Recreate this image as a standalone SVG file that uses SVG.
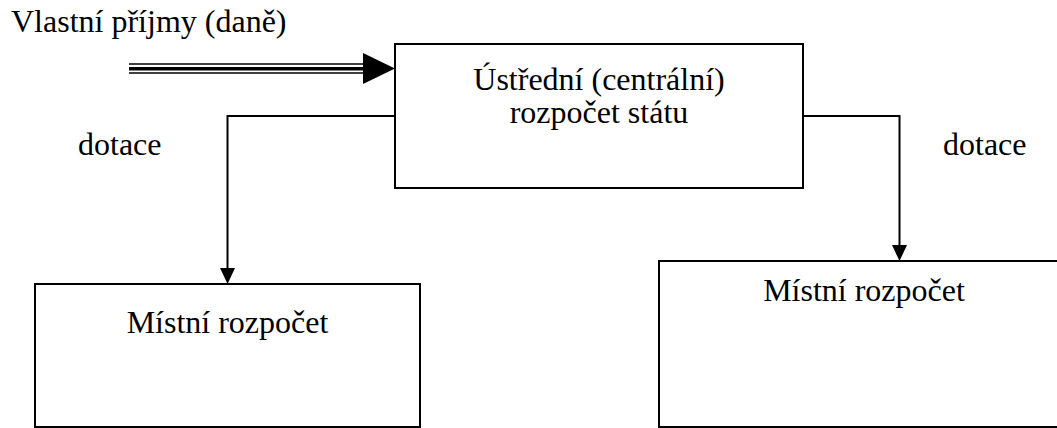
<svg xmlns="http://www.w3.org/2000/svg" width="1057" height="428" viewBox="0 0 1057 428">
<style>
.box{fill:#fff;stroke:#000;stroke-width:2}
.t{font-family:"Liberation Serif","Times New Roman",serif;font-size:32px;fill:#000}
.c{stroke:#000;stroke-width:2;fill:none}
</style>
<rect width="1057" height="428" fill="#fff"/>
<g id="central">
<rect class="box" x="395" y="44" width="408" height="144"/>
<text class="t" x="599" y="90" text-anchor="middle">Ústřední (centrální)</text>
<text class="t" x="599" y="123" text-anchor="middle">rozpočet státu</text>
</g>
<g id="local-left">
<rect class="box" x="35" y="284" width="385" height="143"/>
<text class="t" x="227.5" y="333" text-anchor="middle">Místní rozpočet</text>
</g>
<g id="local-right">
<rect class="box" x="659" y="261" width="420" height="166"/>
<text class="t" x="864" y="301" text-anchor="middle">Místní rozpočet</text>
</g>
<g id="labels">
<text class="t" x="11" y="32">Vlastní příjmy (daně)</text>
<text class="t" x="78" y="155">dotace</text>
<text class="t" x="943" y="155">dotace</text>
</g>
<g id="connectors">
<line x1="129" y1="64" x2="365" y2="64" stroke="#000" stroke-width="1.5"/>
<line x1="129" y1="68.7" x2="365" y2="68.7" stroke="#000" stroke-width="3.5"/>
<line x1="129" y1="73" x2="365" y2="73" stroke="#000" stroke-width="1.5"/>
<path d="M363,53 L395,68.5 L363,84 Z" fill="#000"/>
<path class="c" d="M395,116 H227.5 V268"/>
<path d="M220,268 L235,268 L227.5,284 Z" fill="#000"/>
<path class="c" d="M803,116 H899.5 V245"/>
<path d="M892,245 L907,245 L899.5,261 Z" fill="#000"/>
</g>
</svg>
